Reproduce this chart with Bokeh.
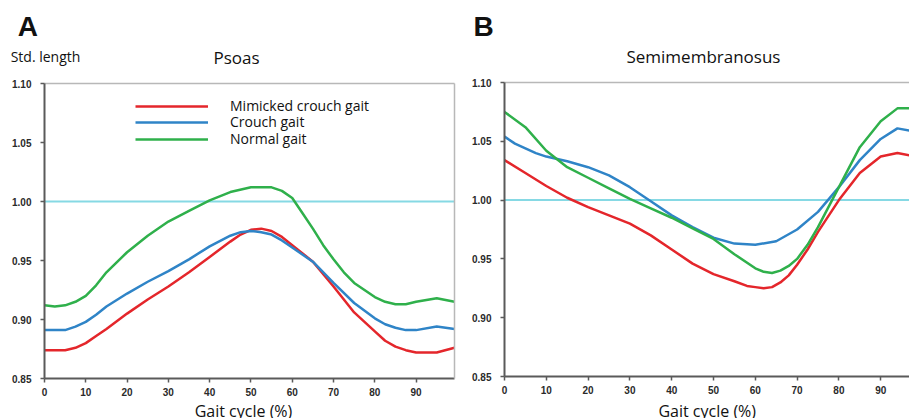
from bokeh.plotting import figure
from bokeh.models import Label, Legend, LegendItem, FixedTicker, NumeralTickFormatter, Range1d, LinearAxis
from bokeh.layouts import row
from bokeh.embed import file_html
from bokeh.resources import INLINE

# ---------------- data ----------------
series_names = ["Mimicked crouch gait", "Crouch gait", "Normal gait"]
x_ticks = [0, 10, 20, 30, 40, 50, 60, 70, 80, 90]
y_ticks = [0.85, 0.90, 0.95, 1.00, 1.05, 1.10]
y_min, y_max = 0.85, 1.10
x_min, x_max = 0, 99.3
reference_level = 1.00

# Panel A: Psoas
psoas_mim_x = [0, 5, 7.5, 10, 12.5, 15, 20, 25, 30, 35, 40, 45, 47.5, 50, 52.5, 55, 57.5, 60, 65, 70, 75,
               80, 82.5, 85, 87.5, 90, 95, 99.3]
psoas_mim_y = [0.874, 0.874, 0.876, 0.880, 0.886, 0.892, 0.905, 0.917, 0.928, 0.940, 0.953, 0.966, 0.972,
               0.976, 0.977, 0.975, 0.970, 0.963, 0.949, 0.928, 0.906, 0.890, 0.882, 0.877, 0.874, 0.872,
               0.872, 0.876]
psoas_cro_x = [0, 5, 7.5, 10, 12.5, 15, 20, 25, 30, 35, 40, 45, 47.5, 50, 52.5, 55, 57.5, 60, 65, 70, 75,
               80, 82.5, 85, 87.5, 90, 95, 99.3]
psoas_cro_y = [0.891, 0.891, 0.894, 0.898, 0.904, 0.911, 0.922, 0.932, 0.941, 0.951, 0.962, 0.971, 0.974,
               0.975, 0.974, 0.972, 0.967, 0.961, 0.949, 0.931, 0.914, 0.901, 0.896, 0.893, 0.891, 0.891,
               0.894, 0.892]
psoas_nor_x = [0, 2.5, 5, 7.5, 10, 12.5, 15, 20, 25, 30, 35, 40, 45, 50, 55, 57.5, 60, 62.5, 65, 67.5, 70,
               72.5, 75, 80, 82.5, 85, 87.5, 90, 95, 99.3]
psoas_nor_y = [0.912, 0.911, 0.912, 0.915, 0.920, 0.929, 0.940, 0.957, 0.971, 0.983, 0.992, 1.001, 1.008,
               1.012, 1.012, 1.009, 1.003, 0.990, 0.977, 0.963, 0.951, 0.940, 0.931, 0.919, 0.915, 0.913,
               0.913, 0.915, 0.918, 0.915]

# Panel B: Semimembranosus
semi_mim_x = [0, 5, 10, 15, 20, 25, 30, 35, 40, 45, 50, 55, 58, 60, 62, 64, 66, 68, 70, 72.5, 75, 80, 85,
              90, 94, 97]
semi_mim_y = [1.034, 1.023, 1.012, 1.002, 0.994, 0.987, 0.980, 0.970, 0.958, 0.946, 0.937, 0.931, 0.927,
              0.926, 0.925, 0.926, 0.930, 0.936, 0.945, 0.958, 0.973, 1.000, 1.023, 1.037, 1.040, 1.038]
semi_cro_x = [0, 2.5, 5, 7.5, 10, 15, 20, 25, 30, 35, 40, 45, 50, 55, 60, 65, 70, 75, 80, 85, 90, 94, 97]
semi_cro_y = [1.054, 1.048, 1.044, 1.040, 1.037, 1.033, 1.028, 1.021, 1.011, 0.999, 0.987, 0.977, 0.968,
              0.963, 0.962, 0.965, 0.975, 0.990, 1.011, 1.034, 1.052, 1.061, 1.059]
semi_nor_x = [0, 5, 10, 15, 20, 25, 30, 35, 40, 45, 50, 55, 60, 62, 64, 66, 68, 70, 72.5, 75, 77.5, 80,
              85, 90, 94, 97]
semi_nor_y = [1.075, 1.062, 1.042, 1.028, 1.019, 1.010, 1.001, 0.993, 0.985, 0.976, 0.967, 0.954, 0.942,
              0.939, 0.938, 0.940, 0.944, 0.950, 0.962, 0.977, 0.994, 1.011, 1.045, 1.067, 1.078, 1.078]

colors = ["#e4262b", "#2f84c7", "#2fb04b"]
ref_color = "#86d9e4"
axis_color = "#5a5a5a"
border_color = "#b8b8b8"

TICK_FONT = "Liberation Sans"
TEXT_FONT = "Open Sans"

H = 418


def make_panel(width, px_left, px_per_x, px_top, px_per_y):
    # frame covers the whole canvas; the data box is placed inside it
    xr = Range1d(-px_left / px_per_x, (width - px_left) / px_per_x)
    yr = Range1d(y_max - (H - px_top) / px_per_y, y_max + px_top / px_per_y)
    p = figure(width=width, height=H, output_backend="svg", toolbar_location=None,
               x_range=xr, y_range=yr, x_axis_location=None, y_axis_location=None,
               min_border=0, min_border_left=0, min_border_right=0,
               min_border_top=0, min_border_bottom=0)
    p.background_fill_color = "white"
    p.border_fill_color = "white"
    p.outline_line_color = None
    p.grid.visible = False

    yax = LinearAxis(fixed_location=x_min, bounds=(y_min, y_max), ticker=FixedTicker(ticks=y_ticks),
                     formatter=NumeralTickFormatter(format="0.00"))
    xax = LinearAxis(fixed_location=y_min, bounds=(x_min, x_max), ticker=FixedTicker(ticks=x_ticks))
    for ax in (xax, yax):
        ax.axis_line_color = axis_color
        ax.axis_line_width = 2
        ax.major_tick_line_color = axis_color
        ax.major_tick_line_width = 1.5
        ax.major_tick_out = 4
        ax.major_tick_in = 0
        ax.minor_tick_line_color = None
        ax.major_label_text_font = TICK_FONT
        ax.major_label_text_font_style = "bold"
        ax.major_label_text_font_size = "10px"
        ax.major_label_text_color = "#2a2a2a"
    yax.major_label_standoff = 9
    xax.major_label_standoff = 5
    p.add_layout(yax, "left")
    p.add_layout(xax, "below")

    top = LinearAxis(fixed_location=y_max, bounds=(x_min, x_max), ticker=FixedTicker(ticks=[]),
                     axis_line_color=border_color, axis_line_width=1.5,
                     major_tick_line_color=None, minor_tick_line_color=None, major_label_text_color=None)
    p.add_layout(top, "above")

    p.segment(x0=[x_min], x1=[x_max], y0=[reference_level], y1=[reference_level],
              line_color=ref_color, line_width=2)
    return p


def add_text(p, x, y, text, size, align="left", style="normal", font=TEXT_FONT):
    p.add_layout(Label(x=x, y=y, text=text, text_font=font, text_font_size=size,
                       text_align=align, text_baseline="alphabetic", text_font_style=style,
                       text_color="#111111"))


# ---------------- Panel A ----------------
pa = make_panel(460, 44, 410 / 99.3, 83, 1180)
right = LinearAxis(fixed_location=x_max, bounds=(y_min, y_max), ticker=FixedTicker(ticks=[]),
                   axis_line_color=border_color, axis_line_width=1.5,
                   major_tick_line_color=None, minor_tick_line_color=None, major_label_text_color=None)
pa.add_layout(right, "right")

ra = []
for xs, ys, c in zip([psoas_mim_x, psoas_cro_x, psoas_nor_x], [psoas_mim_y, psoas_cro_y, psoas_nor_y], colors):
    ra.append(pa.line(xs, ys, line_color=c, line_width=2.5))

legend_offsets = [303, 287, 270]
for r, name, yoff in zip(ra, series_names, legend_offsets):
    lg = Legend(items=[LegendItem(label=name, renderers=[r])], location=(135, yoff),
                glyph_width=73, glyph_height=16, label_height=16, label_standoff=22,
                padding=0, margin=0, spacing=0, border_line_color=None,
                background_fill_alpha=0, label_text_font=TEXT_FONT,
                label_text_font_size="14px", label_text_color="#111111")
    pa.add_layout(lg, "center")

add_text(pa, -6.5, 1.1483, "A", "28px", style="bold", font="Liberation Sans")
add_text(pa, -8.2, 1.1228, "Std. length", "14px")
add_text(pa, 46.5, 1.1217, "Psoas", "17px", align="center")
add_text(pa, 48.7, 0.8221, "Gait cycle  (%)", "16px", align="center")

# ---------------- Panel B ----------------
pb = make_panel(449, 44, 4.18, 82, 1176)
for xs, ys, c in zip([semi_mim_x, semi_cro_x, semi_nor_x], [semi_mim_y, semi_cro_y, semi_nor_y], colors):
    pb.line(xs, ys, line_color=c, line_width=2.5)

add_text(pb, -7.4, 1.1477, "B", "28px", style="bold", font="Liberation Sans")
add_text(pb, 47.6, 1.1217, "Semimembranosus", "17px", align="center")
add_text(pb, 49.0, 0.8204, "Gait cycle  (%)", "16px", align="center")

layout = row(pa, pb)
open("out.html", "w").write(file_html(layout, INLINE))
